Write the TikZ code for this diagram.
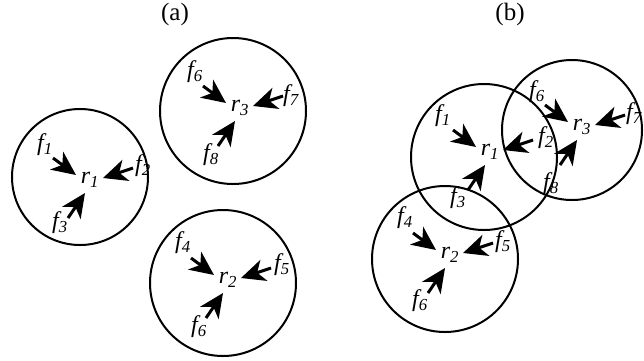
\documentclass[tikz,border=0pt]{standalone}
\usepackage{fontspec}
\setmainfont{Liberation Serif}
\usetikzlibrary{arrows.meta}
\begin{document}
\begin{tikzpicture}[x=1pt,y=-1pt,
  ring/.style={draw, line width=2pt},
  force/.style={line width=3pt, -{Stealth[length=24pt,width=22pt,inset=7pt]}},
  lab/.style={font=\fontsize{24}{24}\selectfont\itshape, inner sep=0pt},
  panellabel/.style={font=\fontsize{25}{25}\selectfont, inner sep=0pt}]
\useasboundingbox (0,0) rectangle (644,360);
\node[panellabel] (capa) at (175,14) {(a)};
\node[panellabel] (capb) at (510,14) {(b)};
% ---------- panel (a)
\draw[ring] (80,177) circle[radius=68pt];
\draw[ring] (233,111) circle[radius=73pt];
\draw[ring] (223,283) circle[radius=73pt];
% cluster r1
\node[lab] (ar1) at (90,180) {r\textsubscript{1}};
\node[lab] (af1) at (45,145) {f\textsubscript{1}};
\node[lab] (af2) at (143,166) {f\textsubscript{2}};
\node[lab] (af3) at (60,223) {f\textsubscript{3}};
% cluster r3
\node[lab] (ar3) at (240,108) {r\textsubscript{3}};
\node[lab] (af6) at (195,72) {f\textsubscript{6}};
\node[lab] (af7) at (291,96) {f\textsubscript{7}};
\node[lab] (af8) at (211,155) {f\textsubscript{8}};
% cluster r2
\node[lab] (ar2) at (228,280) {r\textsubscript{2}};
\node[lab] (af4) at (183,243) {f\textsubscript{4}};
\node[lab] (af5) at (282,265) {f\textsubscript{5}};
\node[lab] (af6b) at (199,327) {f\textsubscript{6}};
% ---------- panel (b)
\draw[ring] (484,157) circle[radius=73pt];
\draw[ring] (572,130) circle[radius=70pt];
\draw[ring] (445,259) circle[radius=73pt];
\node[lab] (br1) at (490,152) {r\textsubscript{1}};
\node[lab] (bf1) at (443,116) {f\textsubscript{1}};
\node[lab] (bf2) at (546,138) {f\textsubscript{2}};
\node[lab] (bf3) at (458,198) {f\textsubscript{3}};
\node[lab] (br3) at (582,127) {r\textsubscript{3}};
\node[lab] (bf6) at (537,92) {f\textsubscript{6}};
\node[lab] (bf7) at (634,114) {f\textsubscript{7}};
\node[lab] (bf8) at (551,184) {f\textsubscript{8}};
\node[lab] (br2) at (450,255) {r\textsubscript{2}};
\node[lab] (bf4) at (405,218) {f\textsubscript{4}};
\node[lab] (bf5) at (503,242) {f\textsubscript{5}};
\node[lab] (bf6b) at (420,301) {f\textsubscript{6}};
% ---------- arrows (same pattern around each r node)
\foreach \r in {ar1,ar3,ar2,br1,br3,br2}{
  \draw[force] ([shift={(-37,-22)}]\r.center) -- ([shift={(-14,-5)}]\r.center);
  \draw[force] ([shift={(43,-12)}]\r.center) -- ([shift={(13,-2)}]\r.center);
  \draw[force] ([shift={(-22,38)}]\r.center) -- ([shift={(-5,13)}]\r.center);
}
\end{tikzpicture}
\end{document}
